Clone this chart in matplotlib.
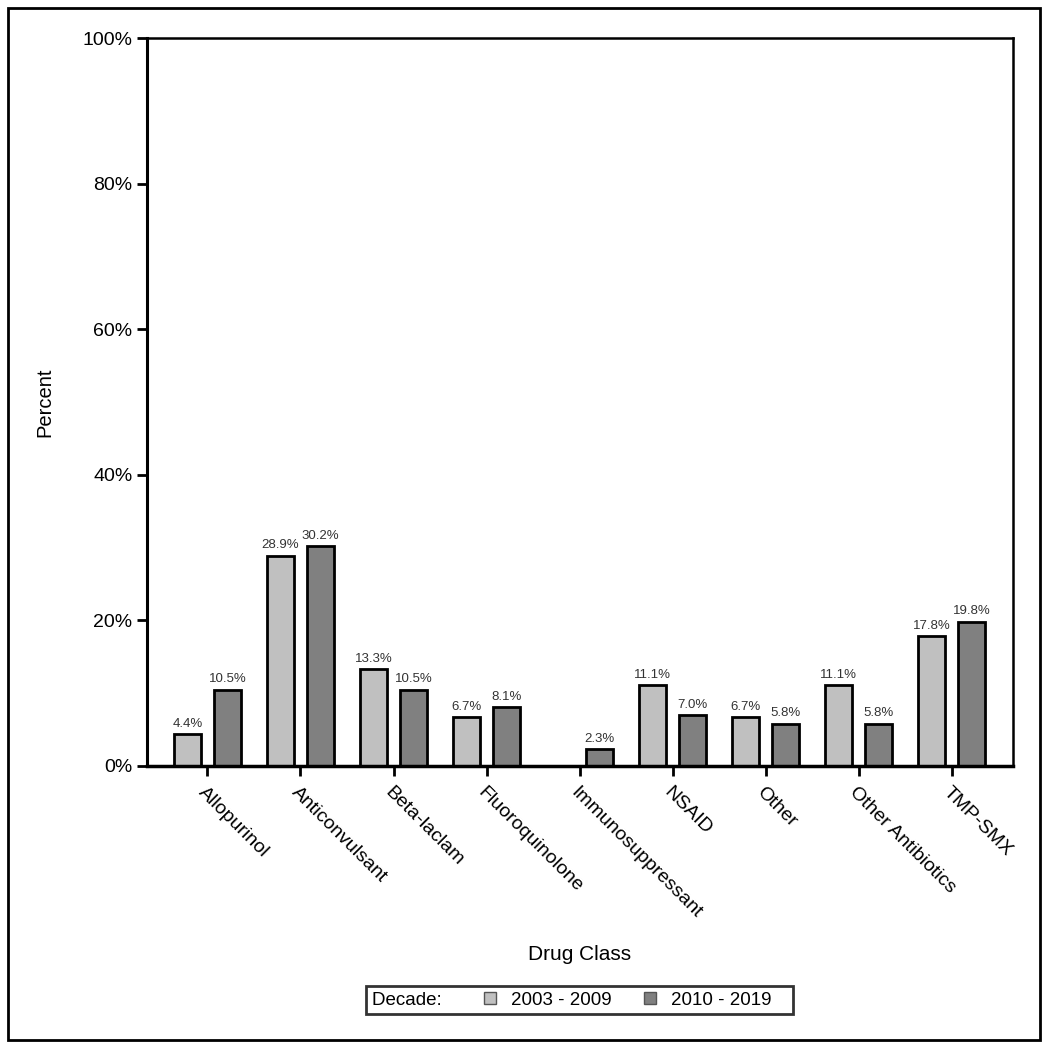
import numpy as np
import matplotlib
matplotlib.use("Agg")
import matplotlib.pyplot as plt
from matplotlib.patches import Patch, Rectangle
from matplotlib.ticker import FuncFormatter

# Data
drug_classes = ["Allopurinol", "Anticonvulsant", "Beta-laclam", "Fluoroquinolone",
                "Immunosuppressant", "NSAID", "Other", "Other Antibiotics", "TMP-SMX"]
pct_2003_2009 = [4.4, 28.9, 13.3, 6.7, np.nan, 11.1, 6.7, 11.1, 17.8]
pct_2010_2019 = [10.5, 30.2, 10.5, 8.1, 2.3, 7.0, 5.8, 5.8, 19.8]
decade_labels = ["2003 - 2009", "2010 - 2019"]
yticks = [0, 20, 40, 60, 80, 100]

plt.rcParams['font.family'] = ['Liberation Sans', 'DejaVu Sans']

light = '#c0c0c0'
dark = '#808080'

fig = plt.figure(figsize=(10.5, 10.48), dpi=100)
ax = fig.add_axes([0.14, 0.2691, 0.8248, 0.6946])

x = np.arange(len(drug_classes))
w = 0.29
off = 0.215
b1 = ax.bar(x - off, pct_2003_2009, w, color=light, edgecolor='black', linewidth=2)
b2 = ax.bar(x + off, pct_2010_2019, w, color=dark, edgecolor='black', linewidth=2)

# value labels above each bar
for bars, vals in [(b1, pct_2003_2009), (b2, pct_2010_2019)]:
    for rect, v in zip(bars, vals):
        if np.isnan(v):
            continue
        ax.text(rect.get_x() + rect.get_width()/2, v + 0.6, f"{v:.1f}%",
                ha='center', va='bottom', fontsize=9.5, color='#333333')

ax.set_xlim(-0.65, 8.66)
ax.set_ylim(0, 100)
ax.set_yticks(yticks)
ax.yaxis.set_major_formatter(FuncFormatter(lambda v, p: f"{v:.0f}%"))
ax.set_xticks(x)
ax.set_xticklabels(drug_classes, rotation=-45, ha='left', va='top',
                   rotation_mode='anchor', fontsize=14)
ax.tick_params(axis='y', labelsize=14, length=7, width=2)
ax.tick_params(axis='x', length=7, width=2, pad=6)
for s in ax.spines.values():
    s.set_linewidth(1.8)
ax.spines['bottom'].set_linewidth(2.5)
ax.spines['left'].set_linewidth(2.2)

ax.set_xlabel("Drug Class", fontsize=15)
ax.set_ylabel("Percent", fontsize=14.5)
ax.xaxis.set_label_coords(0.5, -0.246)
ax.yaxis.set_label_coords(-0.107, 0.5)

# legend: "Decade:" as a label with no swatch, then the two series
handles = [Patch(visible=False), Patch(facecolor=light, edgecolor='#555555'),
           Patch(facecolor=dark, edgecolor='#555555')]
leg = fig.legend(handles, ["Decade:  ", decade_labels[0], decade_labels[1] + "   "],
                 ncol=3, loc='center', bbox_to_anchor=(0.552, 0.0458), fontsize=13.5,
                 frameon=True, fancybox=False, edgecolor='black',
                 handlelength=0.65, handleheight=0.65,
                 columnspacing=1.7, handletextpad=0.8, borderpad=0.3)
leg.get_frame().set_linewidth(2)
first_item = leg._legend_handle_box.get_children()[0].get_children()[0]
first_item.get_children()[0].width = 0
first_item.sep = 0

# outer frame round the whole figure
fig.patches.append(Rectangle((8/1050, 8/1048), 1032/1050, 1032/1048, transform=fig.transFigure,
                             fill=False, edgecolor='black', linewidth=2))

fig.savefig("out.png", dpi=100, facecolor='white')
